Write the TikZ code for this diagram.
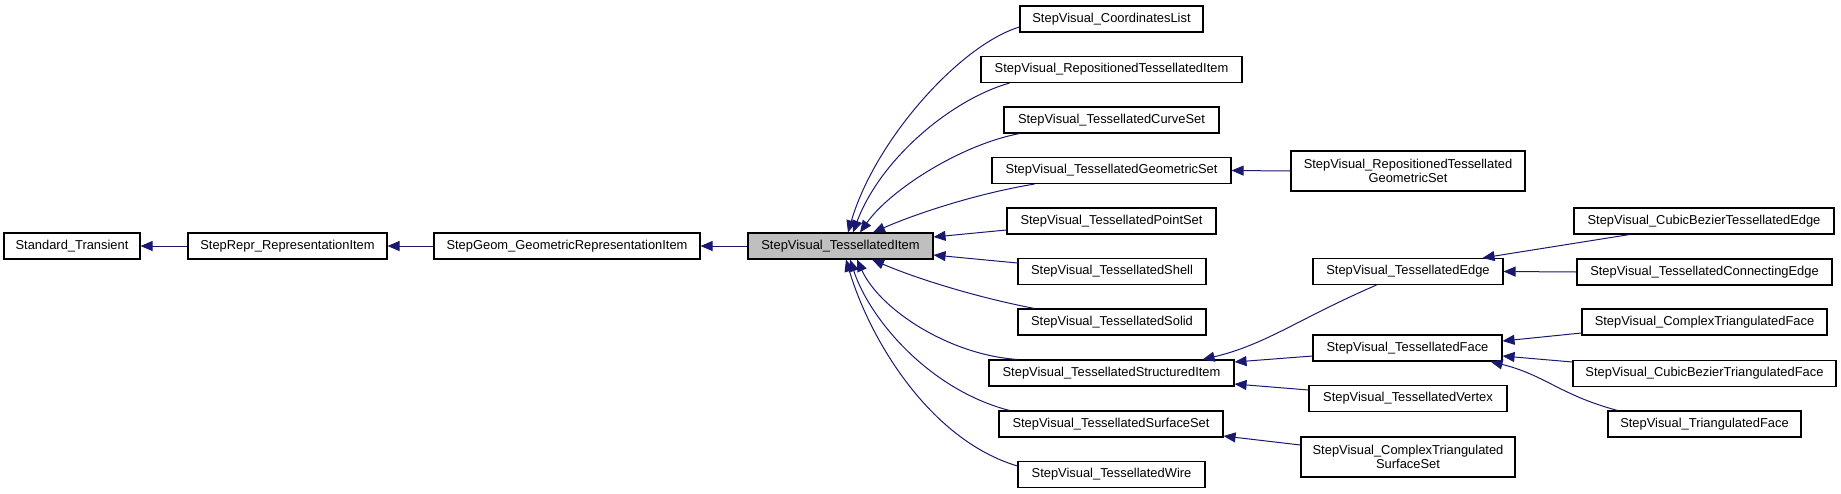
\documentclass[tikz,border=0pt]{standalone}
\usepackage{fontspec}
\setmainfont{Liberation Sans}
\usetikzlibrary{arrows.meta}
\definecolor{edgeblue}{HTML}{191970}
\definecolor{boxgray}{HTML}{BFBFBF}

\begin{document}
\begin{tikzpicture}[x=1pt, y=-1pt,
    cls/.style={draw, line width=1.1pt, inner sep=0pt, minimum height=26pt, align=center,
                font=\fontsize{12.9}{14}\selectfont},
    inh/.style={draw=edgeblue, line width=1pt, -{Triangle[length=12pt, width=10pt]}}]
    \useasboundingbox (0,0) rectangle (1841,493);

    \node[cls, minimum width=136pt] (std) at (72,246) {Standard\_Transient};
    \node[cls, minimum width=199pt] (repr) at (287.5,246) {StepRepr\_RepresentationItem};
    \node[cls, minimum width=266pt] (geom) at (567,246) {StepGeom\_GeometricRepresentationItem};
    \node[cls, minimum width=185pt, fill=boxgray] (item) at (840.5,246) {StepVisual\_TessellatedItem};

    \node[cls, minimum width=183pt] (coords) at (1111.5,19) {StepVisual\_CoordinatesList};
    \node[cls, minimum width=261pt] (repitem) at (1111.5,69.5) {StepVisual\_RepositionedTessellatedItem};
    \node[cls, minimum width=215pt] (curveset) at (1111.5,120) {StepVisual\_TessellatedCurveSet};
    \node[cls, minimum width=239pt] (geomset) at (1111.5,170.5) {StepVisual\_TessellatedGeometricSet};
    \node[cls, minimum width=209pt] (pointset) at (1111.5,221) {StepVisual\_TessellatedPointSet};
    \node[cls, minimum width=188pt] (shell) at (1112,271.5) {StepVisual\_TessellatedShell};
    \node[cls, minimum width=188pt] (solid) at (1112,322) {StepVisual\_TessellatedSolid};
    \node[cls, minimum width=245pt] (structitem) at (1111.5,373) {StepVisual\_TessellatedStructuredItem};
    \node[cls, minimum width=224pt] (surfset) at (1111,424) {StepVisual\_TessellatedSurfaceSet};
    \node[cls, minimum width=187pt] (wire) at (1111.5,474.5) {StepVisual\_TessellatedWire};

    \node[cls, minimum width=234pt, minimum height=40pt] (repgeomset) at (1408,171) {StepVisual\_RepositionedTessellated\\GeometricSet};
    \node[cls, minimum width=190pt] (edge) at (1408,271.5) {StepVisual\_TessellatedEdge};
    \node[cls, minimum width=189pt] (face) at (1407.5,348) {StepVisual\_TessellatedFace};
    \node[cls, minimum width=198pt] (vertex) at (1408,398.5) {StepVisual\_TessellatedVertex};
    \node[cls, minimum width=214pt, minimum height=40pt] (ctsurfset) at (1408,457) {StepVisual\_ComplexTriangulated\\SurfaceSet};

    \node[cls, minimum width=260pt] (cbtedge) at (1704,221) {StepVisual\_CubicBezierTessellatedEdge};
    \node[cls, minimum width=255pt] (connedge) at (1704.5,272) {StepVisual\_TessellatedConnectingEdge};
    \node[cls, minimum width=245pt] (ctface) at (1704.5,322) {StepVisual\_ComplexTriangulatedFace};
    \node[cls, minimum width=263pt] (cbtface) at (1704.5,373.5) {StepVisual\_CubicBezierTriangulatedFace};
    \node[cls, minimum width=193pt] (triface) at (1704.5,424) {StepVisual\_TriangulatedFace};

    \draw[inh] (repr.west) -- (std.east);
    \draw[inh] (geom.west) -- (repr.east);
    \draw[inh] (item.west) -- (geom.east);

    \draw[inh] ([yshift=-8pt]coords.west) .. controls (960,45) and (875,140) .. ([xshift=7.5pt]item.north);
    \draw[inh] ([xshift=29pt]repitem.south west) .. controls (950,100) and (880,160) .. ([xshift=12.5pt]item.north);
    \draw[inh] ([xshift=16pt]curveset.south west) .. controls (960,145) and (890,190) .. ([xshift=19.5pt]item.north);
    \draw[inh] ([xshift=43pt]geomset.south west) .. controls (980,193) and (920,212) .. ([xshift=32.5pt]item.north);
    \draw[inh] ([yshift=-9pt]pointset.west) -- ([yshift=9pt]item.east);
    \draw[inh] ([yshift=8.5pt]shell.west) -- ([yshift=-9pt]item.east);
    \draw[inh] ([xshift=17pt]solid.north west) .. controls (980,298) and (920,280) .. ([xshift=31.5pt]item.south);
    \draw[inh] ([xshift=29pt]structitem.north west) .. controls (950,355) and (880,310) .. ([xshift=16.5pt]item.south);
    \draw[inh] ([xshift=11pt]surfset.north west) .. controls (930,390) and (870,320) .. ([xshift=9.5pt]item.south);
    \draw[inh] ([yshift=8.5pt]wire.west) .. controls (930,440) and (870,340) .. ([xshift=5.5pt]item.south);

    \draw[inh] (repgeomset.west) -- (geomset.east);
    \draw[inh] ([xshift=64pt]edge.south west) .. controls (1300,318) and (1265,345) .. ([xshift=-32pt]structitem.north east);
    \draw[inh] ([yshift=-8pt]face.west) -- ([yshift=11pt]structitem.east);
    \draw[inh] ([yshift=8.5pt]vertex.west) -- ([yshift=-11pt]structitem.east);
    \draw[inh] ([yshift=12pt]ctsurfset.west) -- ([yshift=-12pt]surfset.east);

    \draw[inh] ([xshift=56pt]cbtedge.south west) -- ([xshift=-21pt]edge.north east);
    \draw[inh] (connedge.west) -- (edge.east);
    \draw[inh] ([yshift=-11pt]ctface.west) -- ([yshift=7pt]face.east);
    \draw[inh] ([yshift=11.5pt]cbtface.west) -- ([yshift=-8pt]face.east);
    \draw[inh] ([xshift=10pt]triface.north west) .. controls (1560,395) and (1545,375) .. ([xshift=-12pt]face.south east);
\end{tikzpicture}
\end{document}
